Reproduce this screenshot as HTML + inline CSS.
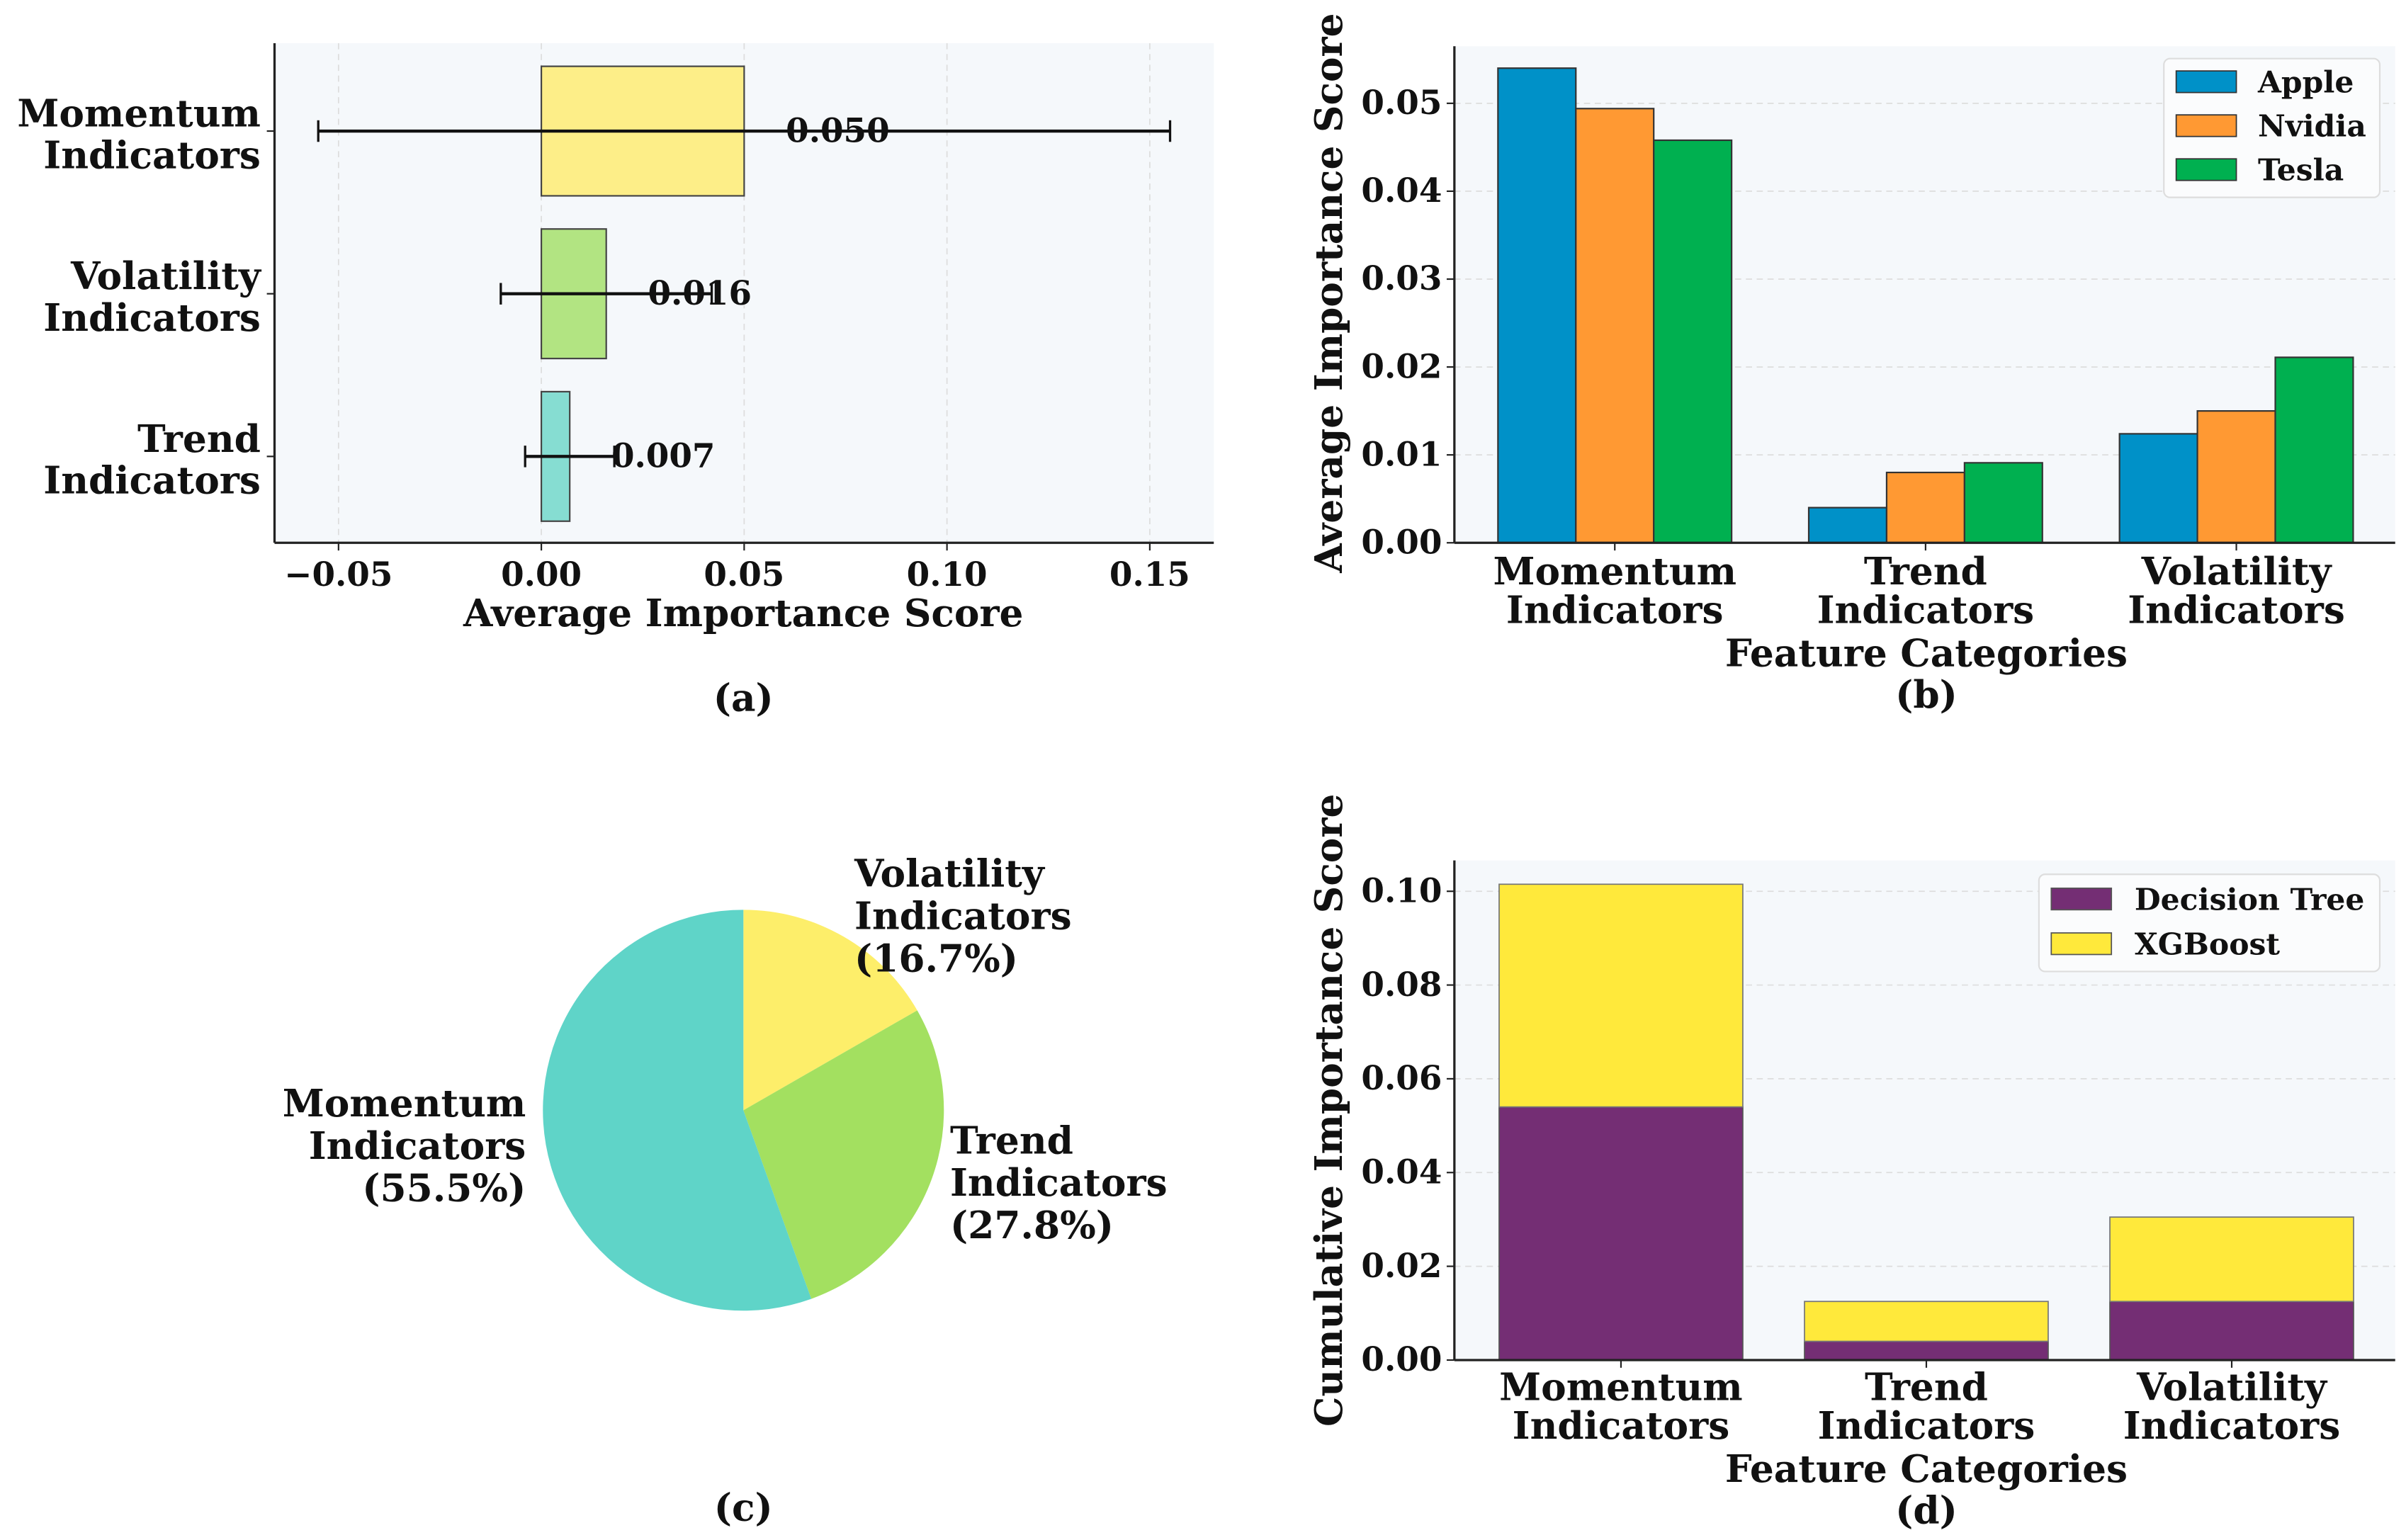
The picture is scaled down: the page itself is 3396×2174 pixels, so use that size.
<!DOCTYPE html>
<html><head><meta charset="utf-8">
<style>
html,body{margin:0;padding:0;background:#fff;}
svg{display:block;}
text{font-family:"DejaVu Serif","Liberation Serif",serif;font-weight:bold;fill:#111;}
</style></head>
<body>
<svg id="fig" xmlns="http://www.w3.org/2000/svg" width="3396" height="2174" viewBox="0 0 1560 998.7" preserveAspectRatio="none"></svg>
<script>
// ---- Panel (a) data ----
const aCats = ["Momentum Indicators","Volatility Indicators","Trend Indicators"];
const aVals = [0.050, 0.016, 0.007];
const aErr = [0.105, 0.026, 0.011];
const aLabels = ["0.050","0.016","0.007"];
const aTicks = [-0.05, 0, 0.05, 0.10, 0.15];
const aTickLabels = ["\u22120.05","0.00","0.05","0.10","0.15"];
// ---- Panel (b) data ----
const bCats = ["Momentum Indicators","Trend Indicators","Volatility Indicators"];
const bSeries = ["Apple","Nvidia","Tesla"];
const bApple = [0.0540, 0.0040, 0.0124];
const bNvidia = [0.0494, 0.0080, 0.0150];
const bTesla = [0.0458, 0.0091, 0.0211];
const bTicks = [0, 0.01, 0.02, 0.03, 0.04, 0.05];
const bTickLabels = ["0.00","0.01","0.02","0.03","0.04","0.05"];
// ---- Panel (c) data ----
const cCats = ["Volatility Indicators","Trend Indicators","Momentum Indicators"];
const cPct = [16.7, 27.8, 55.5];
// ---- Panel (d) data ----
const dCats = ["Momentum Indicators","Trend Indicators","Volatility Indicators"];
const dTree = [0.0540, 0.0040, 0.0125];
const dXgb = [0.0475, 0.0085, 0.0180];
const dTicks = [0, 0.02, 0.04, 0.06, 0.08, 0.10];
const dTickLabels = ["0.00","0.02","0.04","0.06","0.08","0.10"];

const FS=24.5, TS=21.5;
const NS="http://www.w3.org/2000/svg";
const svg=document.getElementById('fig');
function mk(tag,attrs,parent){const e=document.createElementNS(NS,tag);for(const k in attrs)e.setAttribute(k,attrs[k]);(parent||svg).appendChild(e);return e;}
function txt(x,y,s,size,anchor,parent){const t=mk('text',{x:x,y:y,'font-size':size,'text-anchor':anchor||'middle'},parent);t.textContent=s;return t;}
function multi(x,y,lines,size,anchor,lh,parent){const t=mk('text',{x:x,y:y,'font-size':size,'text-anchor':anchor||'middle'},parent);lines.forEach((l,i)=>{const ts=mk('tspan',{x:x,dy:i?lh:0},t);ts.textContent=l;});return t;}
function split(c){const i=c.indexOf(' ');return [c.slice(0,i),c.slice(i+1)];}

// ================= Panel (a) =================
const ga=mk('g',{});


const aL=178,aR=787,aT=28,aB=352;
const ax=v=>351+v*2630;
const ay=i=>85+i*105.5;
mk('rect',{x:aL,y:aT,width:aR-aL,height:aB-aT,fill:'#f5f8fb'},ga);
aTicks.forEach((t,i)=>{
  const g=mk('line',{x1:ax(t),x2:ax(t),y1:aT,y2:aB,stroke:'#ddd','stroke-dasharray':'4,3','stroke-width':0.8},ga);
  
  mk('line',{x1:ax(t),x2:ax(t),y1:aB,y2:aB+5,stroke:'#222'},ga);
  const tl=txt(ax(t),aB+28,aTickLabels[i],TS,'middle',ga);
  
});
const aColors=['#fdee88','#b2e482','#86ddd2'];
aCats.forEach((c,i)=>{
  const y=ay(i);
  const r=mk('rect',{x:ax(0),y:y-42,width:ax(aVals[i])-ax(0),height:84,fill:aColors[i],stroke:'#444','stroke-width':1},ga);
  
  const e=mk('g',{},ga);
  
  const lo=ax(aVals[i]-aErr[i]),hi=ax(aVals[i]+aErr[i]);
  mk('line',{x1:lo,x2:hi,y1:y,y2:y,stroke:'#111','stroke-width':2},e);
  mk('line',{x1:lo,x2:lo,y1:y-7,y2:y+7,stroke:'#111','stroke-width':1.5},e);
  mk('line',{x1:hi,x2:hi,y1:y-7,y2:y+7,stroke:'#111','stroke-width':1.5},e);
  const vl=txt(ax(aVals[i])+27,y+7,aLabels[i],TS,'start',ga);
  
  mk('line',{x1:aL-5,x2:aL,y1:y,y2:y,stroke:'#222'},ga);
  const cl=multi(169,y-3,split(c),FS,'end',27,ga);
  
});
mk('line',{x1:aL,x2:aL,y1:aT,y2:aB,stroke:'#222','stroke-width':1.5},ga);
mk('line',{x1:aL,x2:aR,y1:aB,y2:aB,stroke:'#222','stroke-width':1.5},ga);
const axt=txt(482,406,'Average Importance Score',FS,'middle',ga);

const capA=txt(482,461,'(a)',FS,'middle',ga);


// ================= Panel (b) =================
const gb=mk('g',{});


const bL=943,bR=1553,bT=30,bB=352;
const by=v=>bB-v*5700;
const bx=i=>1047+i*201.5;
mk('rect',{x:bL,y:bT,width:bR-bL,height:bB-bT,fill:'#f5f8fb'},gb);
bTicks.forEach((t,i)=>{
  if(i>0){const g=mk('line',{x1:bL,x2:bR,y1:by(t),y2:by(t),stroke:'#ddd','stroke-dasharray':'4,3','stroke-width':0.8},gb);
  }
  mk('line',{x1:bL-5,x2:bL,y1:by(t),y2:by(t),stroke:'#222'},gb);
  const tl=txt(bL-8,by(t)+7,bTickLabels[i],TS,'end',gb);
  
});
const bColors=['#0091c8','#ff9933','#00b050'];
const bData=[bApple,bNvidia,bTesla];
const bw=50.5;
bCats.forEach((c,i)=>{
  bData.forEach((arr,s)=>{
    const x=bx(i)+(s-1.5)*bw;
    const r=mk('rect',{x:x,y:by(arr[i]),width:bw,height:by(0)-by(arr[i]),fill:bColors[s],stroke:'#333','stroke-width':1},gb);
    
  });
  mk('line',{x1:bx(i),x2:bx(i),y1:bB,y2:bB+5,stroke:'#222'},gb);
  const cl=multi(bx(i),bB+27,split(c),FS,'middle',25,gb);
  
});
mk('line',{x1:bL,x2:bL,y1:bT,y2:bB,stroke:'#222','stroke-width':1.5},gb);
mk('line',{x1:bL,x2:bR,y1:bB,y2:bB,stroke:'#222','stroke-width':1.5},gb);
const bxt=txt(1249,432,'Feature Categories',FS,'middle',gb);

const byt=txt(0,0,'Average Importance Score',FS,'middle',gb);
byt.setAttribute('transform','translate(870,190) rotate(-90)');

const capB=txt(1249,459,'(b)',FS,'middle',gb);

const lb=mk('g',{},gb);

mk('rect',{x:1403,y:38,width:140,height:90,rx:4,fill:'#fbfcfd',stroke:'#ddd'},lb);
bSeries.forEach((s,k)=>{
  const le=mk('g',{},lb);
  
  mk('rect',{x:1411,y:46+k*28.5,width:39,height:14,fill:bColors[k],stroke:'#333','stroke-width':0.8},le);
  txt(1464,60+k*28.5,s,19.5,'start',le);
});

// ================= Panel (c) =================
const gc=mk('g',{});


const cx=482,cy=720,rad=130;
const cColors=['#fdee6a','#a3e060','#5fd4c8'];
let acc=0;
const total=cPct.reduce((a,b)=>a+b,0);
const pt=f=>[cx+rad*Math.sin(f*2*Math.PI),cy-rad*Math.cos(f*2*Math.PI)];
cPct.forEach((p,i)=>{
  const f0=acc/total,f1=(acc+p)/total;acc+=p;
  const [x0,y0]=pt(f0),[x1,y1]=pt(f1);
  const large=(f1-f0)>0.5?1:0;
  const s=mk('path',{d:`M${cx},${cy} L${x0},${y0} A${rad},${rad} 0 ${large} 1 ${x1},${y1} Z`,fill:cColors[i]},gc);
  
});
const cLabPos=[[554,567,'start'],[616,740,'start'],[341,716,'end']];
cCats.forEach((c,i)=>{
  const [x,y,a]=cLabPos[i];
  const l=multi(x,y+8,split(c).concat(['('+cPct[i].toFixed(1)+'%)']),FS,a,27.5,gc);
  
});
const capC=txt(482,986,'(c)',FS,'middle',gc);


// ================= Panel (d) =================
const gd=mk('g',{});


const dL=943,dR=1553,dT=558,dB=882;
const dy=v=>dB-v*3040;
const dx=i=>1051+i*198;
mk('rect',{x:dL,y:dT,width:dR-dL,height:dB-dT,fill:'#f5f8fb'},gd);
dTicks.forEach((t,i)=>{
  if(i>0){const g=mk('line',{x1:dL,x2:dR,y1:dy(t),y2:dy(t),stroke:'#ddd','stroke-dasharray':'4,3','stroke-width':0.8},gd);
  }
  mk('line',{x1:dL-5,x2:dL,y1:dy(t),y2:dy(t),stroke:'#222'},gd);
  const tl=txt(dL-8,dy(t)+7,dTickLabels[i],TS,'end',gd);
  
});
const dw=158;
dCats.forEach((c,i)=>{
  const r1=mk('rect',{x:dx(i)-dw/2,y:dy(dTree[i]),width:dw,height:dy(0)-dy(dTree[i]),fill:'#742e74',stroke:'#555','stroke-width':0.8},gd);
  
  const r2=mk('rect',{x:dx(i)-dw/2,y:dy(dTree[i]+dXgb[i]),width:dw,height:dy(dTree[i])-dy(dTree[i]+dXgb[i]),fill:'#ffe93b',stroke:'#777','stroke-width':0.8},gd);
  
  mk('line',{x1:dx(i),x2:dx(i),y1:dB,y2:dB+5,stroke:'#222'},gd);
  const cl=multi(dx(i),dB+26,split(c),FS,'middle',25,gd);
  
});
mk('line',{x1:dL,x2:dL,y1:dT,y2:dB,stroke:'#222','stroke-width':1.5},gd);
mk('line',{x1:dL,x2:dR,y1:dB,y2:dB,stroke:'#222','stroke-width':1.5},gd);
const dxt=txt(1249,961,'Feature Categories',FS,'middle',gd);

const dyt=txt(0,0,'Cumulative Importance Score',FS,'middle',gd);
dyt.setAttribute('transform','translate(870,720) rotate(-90)');

const capD=txt(1249,988,'(d)',FS,'middle',gd);

const ld=mk('g',{},gd);

mk('rect',{x:1322,y:567,width:221,height:63,rx:4,fill:'#fbfcfd',stroke:'#ddd'},ld);
[['Decision Tree','#742e74'],['XGBoost','#ffe93b']].forEach((e,k)=>{
  const le=mk('g',{},ld);
  
  mk('rect',{x:1330,y:576+k*29,width:39,height:14,fill:e[1],stroke:'#555','stroke-width':0.8},le);
  txt(1384,590+k*29,e[0],19.5,'start',le);
});
</script>
</body></html>
